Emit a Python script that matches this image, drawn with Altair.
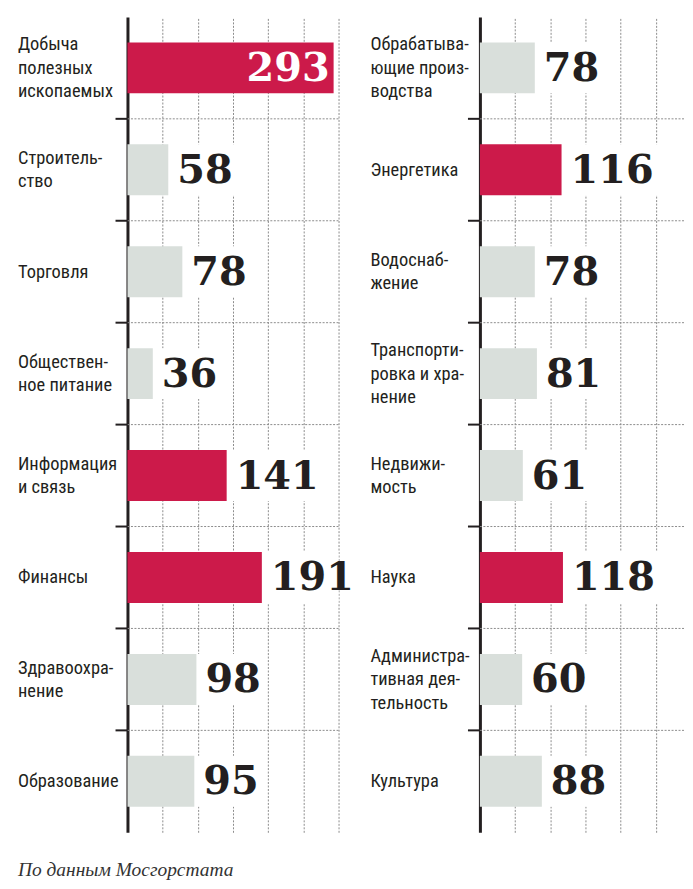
import altair as alt
import pandas as pd

# ---- data ----
left_labels = ["Добыча|полезных|ископаемых", "Строитель-|ство", "Торговля",
               "Обществен-|ное питание", "Информация|и связь", "Финансы",
               "Здравоохра-|нение", "Образование"]
left_values = [293, 58, 78, 36, 141, 191, 98, 95]

right_labels = ["Обрабатыва-|ющие произ-|водства", "Энергетика", "Водоснаб-|жение",
                "Транспорти-|ровка и хра-|нение", "Недвижи-|мость", "Наука",
                "Администра-|тивная дея-|тельность", "Культура"]
right_values = [78, 116, 78, 81, 61, 118, 60, 88]

source_note = "По данным Мосгорстата"

# ---- style ----
RED = "#cc1a4a"
GRAY = "#d9dfdb"
DARK = "#231f20"
GRID = "#8c8c8c"
LABEL_FONT = "'Roboto Condensed', 'DejaVu Sans Condensed', 'Liberation Sans Narrow', Roboto, sans-serif"
LABEL_SIZE = 18.5
LINE_H = 23.5
NUM_FONT = "DejaVu Serif"
NUM_SIZE = 40
PX_PER_UNIT = 212 / 300
PLOT_H = 819


def panel(labels, values, xmax, width, grid_vals):
    df = pd.DataFrame({"label": labels, "value": values, "row": list(range(len(labels)))})
    ysc = alt.Scale(paddingInner=0, paddingOuter=0)
    xsc = alt.Scale(domain=[0, xmax], nice=False, zero=True)
    yaxis = alt.Axis(
        title=None, domain=True, domainColor=DARK, domainWidth=3, ticks=False, grid=False,
        labels=False,
    )
    xaxis = alt.Axis(
        title=None, values=grid_vals, grid=True, gridDash=[2, 1.5], gridColor=GRID,
        gridWidth=1, labels=False, ticks=False, domain=False,
    )
    base = alt.Chart(df).transform_calculate(
        nlines="length(split(datum.label, '|'))"
    )
    y = alt.Y("label:N", sort=None, scale=ysc, axis=yaxis)
    yb = alt.Y("label:N", sort=None)

    grid_holder = base.mark_point(opacity=0).encode(
        x=alt.X("value:Q", scale=xsc, axis=xaxis), y=y)

    seps = base.transform_filter("datum.row > 0").mark_rule(
        color=GRID, strokeDash=[2, 1.5], strokeWidth=1
    ).encode(y=alt.Y("label:N", sort=None, bandPosition=0), x=alt.value(0), x2=alt.value(width))

    ticks = base.transform_filter("datum.row > 0").mark_rule(
        color=DARK, strokeWidth=2
    ).encode(y=alt.Y("label:N", sort=None, bandPosition=0), x=alt.value(-12), x2=alt.value(0))

    # category names, one layer per number of lines so each block is centred on its row
    name_layers = []
    for n in (1, 2, 3):
        name_layers.append(
            base.transform_filter(f"datum.nlines == {n}").mark_text(
                align="left", baseline="middle", lineBreak="|", lineHeight=LINE_H,
                font=LABEL_FONT, fontSize=LABEL_SIZE, color=DARK, dy=-(n - 1) * LINE_H / 2,
            ).encode(y=yb, x=alt.value(-110), text="label:N")
        )

    boxes = base.transform_filter("datum.value <= 250").transform_calculate(
        box_end=f"min(datum.value + (19 + 26 * length(toString(datum.value))) / {PX_PER_UNIT}, {xmax})"
    ).mark_bar(color="white", height=alt.RelativeBandSize(0.5)).encode(
        x="value:Q", x2="box_end:Q", y=yb)

    bars = base.mark_bar(height=alt.RelativeBandSize(0.5)).encode(
        x="value:Q", y=yb,
        color=alt.condition("datum.value > 100", alt.value(RED), alt.value(GRAY)),
    )

    txt_out = base.transform_filter("datum.value <= 250").mark_text(
        align="left", baseline="middle", dx=9, dy=1, font=NUM_FONT, fontWeight="bold",
        fontSize=NUM_SIZE, color=DARK,
    ).encode(x="value:Q", y=yb, text="value:Q")

    txt_in = base.transform_filter("datum.value > 250").mark_text(
        align="right", baseline="middle", dx=-4, dy=1, font=NUM_FONT, fontWeight="bold",
        fontSize=NUM_SIZE, color="white",
    ).encode(x="value:Q", y=yb, text="value:Q")

    return alt.layer(grid_holder, seps, ticks, *name_layers, boxes, bars, txt_out, txt_in).properties(
        width=width, height=PLOT_H)


left = panel(left_labels, left_values, 300, 212, [50, 100, 150, 200, 250, 300])
right = panel(right_labels, right_values, 290, 205, [50, 100, 150, 200, 250])

chart = alt.hconcat(left, right, spacing=142, bounds="flush").properties(
    title=alt.TitleParams(
        source_note, orient="bottom", anchor="start", font="Liberation Serif",
        fontStyle="italic", fontWeight="normal", fontSize=19.5, color="#333333", offset=29,
    ),
    padding={"left": 10, "top": 7, "right": 0, "bottom": 5},
).configure_view(stroke=None)

chart.save("out.html", embed_options={"renderer": "svg", "actions": False})
